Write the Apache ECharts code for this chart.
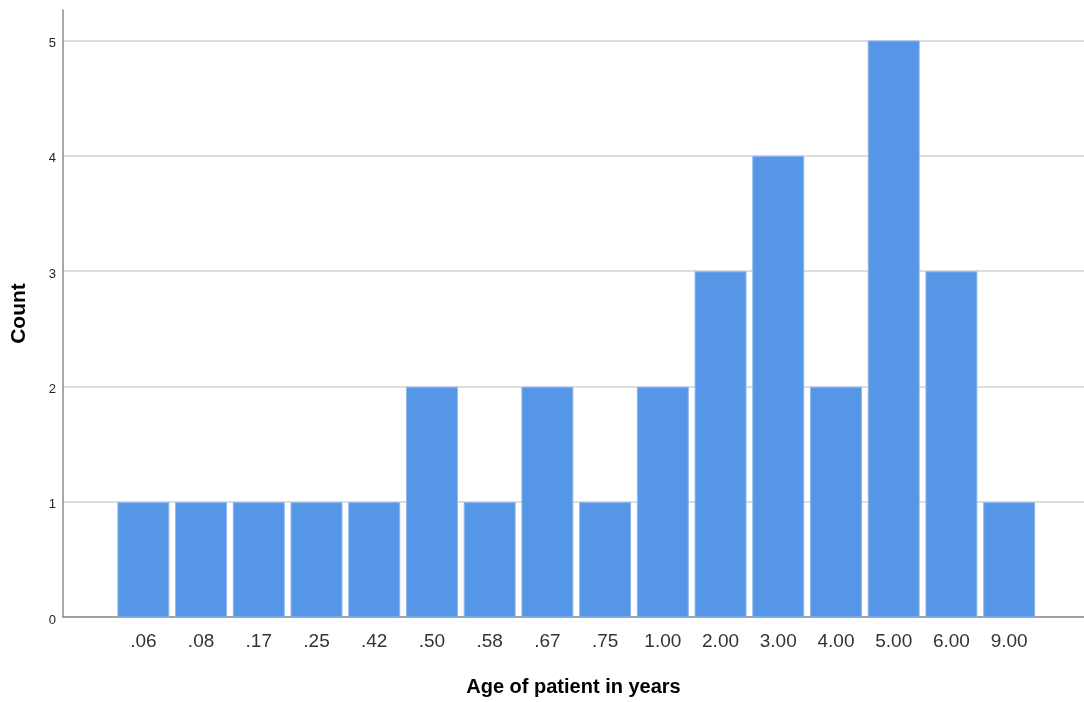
<!DOCTYPE html>
<html>
<head>
<meta charset="utf-8">
<script src="https://cdn.jsdelivr.net/npm/echarts@6/dist/echarts.min.js"></script>
<style>
html,body{margin:0;padding:0;background:#fff;}
#chart{width:1084px;height:702px;}
</style>
</head>
<body>
<div id="chart"></div>
<script>
var categories = ['.06', '.08', '.17', '.25', '.42', '.50', '.58', '.67', '.75', '1.00', '2.00', '3.00', '4.00', '5.00', '6.00', '9.00'];
var counts = [1, 1, 1, 1, 1, 2, 1, 2, 1, 2, 3, 4, 2, 5, 3, 1];
var yTicks = [0, 1, 2, 3, 4, 5];
var yMax = 5.264;

var chart = echarts.init(document.getElementById('chart'), null, {renderer: 'canvas'});
var font = '"Liberation Sans", Arial, sans-serif';
chart.setOption({
  animation: false,
  backgroundColor: '#ffffff',
  grid: [
    {left: 63, right: 0, top: 10, bottom: 84.5, containLabel: false},
    {left: 114.5, right: 46, top: 10, bottom: 84.5, containLabel: false}
  ],
  xAxis: [
    {
      type: 'value', gridIndex: 0, min: 0, max: 1,
      axisLine: {show: true, lineStyle: {color: '#8c8c8c', width: 1.5}},
      axisTick: {show: false}, axisLabel: {show: false}, splitLine: {show: false},
      name: 'Age of patient in years', nameLocation: 'middle', nameGap: 60,
      nameTextStyle: {fontFamily: font, fontSize: 20, fontWeight: 'bold', color: '#000'}
    },
    {
      type: 'category', gridIndex: 1, data: categories,
      axisLine: {show: false}, axisTick: {show: false}, splitLine: {show: false},
      axisLabel: {fontFamily: font, fontSize: 19, color: '#333', margin: 15, interval: 0}
    }
  ],
  yAxis: [
    {
      type: 'value', gridIndex: 0, min: 0, max: yMax, interval: 1,
      axisLine: {show: true, lineStyle: {color: '#8c8c8c', width: 1.5}},
      axisTick: {show: false},
      axisLabel: {fontFamily: font, fontSize: 13, color: '#222', margin: 7, showMaxLabel: false,
        formatter: function (v) { return yTicks.indexOf(v) >= 0 ? '{t|' + v + '}' : ''; },
        rich: {t: {fontFamily: font, fontSize: 13, color: '#222', padding: [6, 0, 0, 0]}}},
      splitLine: {show: true, showMaxLine: false, lineStyle: {color: '#d2d2d2', width: 1.5}},
      name: 'Count', nameLocation: 'middle', nameGap: 33, nameRotate: 90,
      nameTextStyle: {fontFamily: font, fontSize: 21, fontWeight: 'bold', color: '#000'}
    },
    {
      type: 'value', gridIndex: 1, min: 0, max: yMax, show: false
    }
  ],
  series: [{
    type: 'bar', xAxisIndex: 1, yAxisIndex: 1, data: counts,
    barCategoryGap: '10%',
    itemStyle: {color: '#5596e6', borderColor: '#8fb7ee', borderWidth: 1}
  }]
});
</script>
</body>
</html>
